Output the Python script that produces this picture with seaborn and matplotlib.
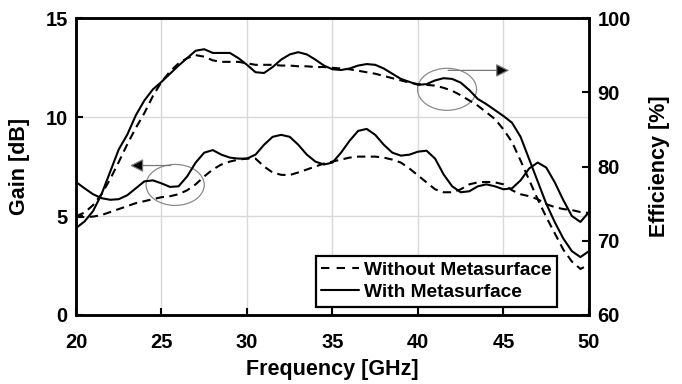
import numpy as np
import pandas as pd
import seaborn as sns
import matplotlib.pyplot as plt
from matplotlib.patches import Ellipse
from matplotlib.lines import Line2D

# frequency grid (GHz)
freq = np.arange(20.0, 50.01, 0.5)

# gain [dB]
gain_without = [4.95, 4.95, 4.97, 5.05, 5.2, 5.35, 5.5, 5.65, 5.75, 5.85,
                5.95, 6.0, 6.1, 6.3, 6.6, 7.0, 7.35, 7.6, 7.75, 7.85,
                7.9, 7.9, 7.5, 7.2, 7.08, 7.07, 7.2, 7.35, 7.5, 7.65,
                7.75, 7.85, 7.95, 8.0, 8.0, 8.0, 7.95, 7.85, 7.7, 7.4,
                7.05, 6.7, 6.35, 6.2, 6.2, 6.35, 6.6, 6.7, 6.72, 6.7,
                6.6, 6.3, 6.1, 6.0, 5.85, 5.6, 5.45, 5.35, 5.3, 5.2, 5.15]
gain_with = [6.72, 6.4, 6.1, 5.9, 5.82, 5.85, 6.05, 6.4, 6.75, 6.8,
             6.65, 6.47, 6.5, 7.0, 7.7, 8.2, 8.33, 8.1, 7.95, 7.9,
             7.9, 8.1, 8.6, 9.0, 9.1, 9.0, 8.6, 8.1, 7.75, 7.6,
             7.7, 8.2, 8.8, 9.3, 9.4, 9.1, 8.6, 8.2, 8.05, 8.1,
             8.25, 8.3, 7.9, 7.1, 6.5, 6.2, 6.25, 6.5, 6.6, 6.5,
             6.35, 6.4, 6.8, 7.4, 7.7, 7.45, 6.7, 5.8, 5.0, 4.7, 5.2]

# efficiency [%]
eff_without = [73.3, 73.8, 74.8, 76.3, 78.3, 80.6, 83.0, 85.2, 87.2, 89.5,
               91.4, 92.8, 93.9, 94.6, 95.0, 94.8, 94.3, 94.1, 94.1, 94.1,
               93.9, 93.7, 93.7, 93.7, 93.6, 93.6, 93.5, 93.5, 93.4, 93.4,
               93.3, 93.2, 93.1, 92.9, 92.7, 92.5, 92.2, 91.9, 91.6, 91.3,
               91.1, 91.0, 90.9, 90.6, 90.2, 89.6, 88.9, 88.2, 87.3, 86.4,
               85.0, 83.3, 80.8, 78.2, 75.6, 73.2, 71.0, 68.8, 67.2, 66.2, 66.8]
eff_with = [71.7, 72.6, 74.0, 76.3, 79.3, 82.3, 84.3, 86.9, 88.9, 90.4,
            91.4, 92.5, 93.6, 94.6, 95.6, 95.8, 95.3, 95.3, 95.3, 94.6,
            93.7, 92.7, 92.6, 93.4, 94.4, 95.1, 95.4, 95.1, 94.4, 93.6,
            93.1, 93.0, 93.2, 93.6, 93.8, 93.7, 93.2, 92.5, 91.8, 91.4,
            91.0, 91.1, 91.6, 91.9, 91.8, 91.3, 90.3, 89.1, 88.4, 87.6,
            86.8, 85.9, 84.0, 81.0, 78.0, 75.0, 72.5, 70.3, 68.6, 67.8, 68.6]

cases = ["Without Metasurface", "With Metasurface"]

gain_df = pd.DataFrame({
    "freq": np.concatenate([freq, freq]),
    "value": gain_without + gain_with,
    "case": [cases[0]] * len(freq) + [cases[1]] * len(freq),
})
eff_df = pd.DataFrame({
    "freq": np.concatenate([freq, freq]),
    "value": eff_without + eff_with,
    "case": [cases[0]] * len(freq) + [cases[1]] * len(freq),
})

sns.set_style("ticks")
plt.rcParams["font.family"] = ["Liberation Sans", "DejaVu Sans"]
plt.rcParams["font.weight"] = "bold"
plt.rcParams["text.color"] = "black"
plt.rcParams["axes.labelcolor"] = "black"
plt.rcParams["xtick.color"] = "black"
plt.rcParams["ytick.color"] = "black"

dash_map = {cases[0]: (4, 2.6), cases[1]: ""}
lw = 1.5

fig = plt.figure(figsize=(6.82, 3.84), dpi=100)
ax1 = fig.add_axes([0.1114, 0.1797, 0.7522, 0.7733])
ax2 = ax1.twinx()

sns.lineplot(data=gain_df, x="freq", y="value", style="case", dashes=dash_map,
             color="black", linewidth=lw, ax=ax1, legend=False)
sns.lineplot(data=eff_df, x="freq", y="value", style="case", dashes=dash_map,
             color="black", linewidth=lw, ax=ax2, legend=False)

ax1.set_xlim(20, 50)
ax1.set_ylim(0, 15)
ax2.set_ylim(60, 100)
ax1.set_xticks(range(20, 51, 5))
ax1.set_yticks([0, 5, 10, 15])
ax2.set_yticks(range(60, 101, 10))
ax1.grid(True, color="#d9d9d9", linewidth=1.0)
ax1.set_axisbelow(True)

ax1.set_xlabel("Frequency [GHz]", fontsize=15.5, fontweight="bold", labelpad=5)
ax1.set_ylabel("Gain [dB]", fontsize=15.5, fontweight="bold", labelpad=11)
ax2.set_ylabel("Efficiency [%]", fontsize=15.5, fontweight="bold", labelpad=13)

for ax in (ax1, ax2):
    ax.tick_params(direction="in", length=5, width=1.5, labelsize=14.5, pad=6)
    for s in ax.spines.values():
        s.set_linewidth(1.8)
        s.set_color("black")
ax1.tick_params(axis="x", pad=13)
ax2.tick_params(axis="y", right=True)

# ellipses and arrows marking which axis each pair belongs to
ax1.add_patch(Ellipse((25.8, 6.57), 3.4, 2.07, fill=False, edgecolor="#8a8a8a", linewidth=0.9))
ax1.annotate("", xy=(23.0, 7.55), xytext=(25.7, 7.55),
             arrowprops=dict(arrowstyle="-|>", mutation_scale=20, fc="black", ec="#777777", lw=0.9))
ax2.add_patch(Ellipse((41.7, 90.4), 3.45, 5.66, fill=False, edgecolor="#8a8a8a", linewidth=0.9))
ax2.annotate("", xy=(45.5, 92.95), xytext=(41.6, 92.95),
             arrowprops=dict(arrowstyle="-|>", mutation_scale=20, fc="black", ec="#777777", lw=0.9))

handles = [Line2D([], [], color="black", lw=lw, dashes=(4, 3.5)),
           Line2D([], [], color="black", lw=lw)]
leg = ax2.legend(handles, cases, loc="lower right", bbox_to_anchor=(0.9376, 0.028),
                 fancybox=False, framealpha=1, edgecolor="black", handlelength=1.95,
                 handletextpad=0.25, borderpad=0.3, labelspacing=0.25,
                 borderaxespad=0, prop=dict(size=13.8, weight="bold"))
leg.get_frame().set_linewidth(1.6)

fig.savefig("out.png", dpi=100)
